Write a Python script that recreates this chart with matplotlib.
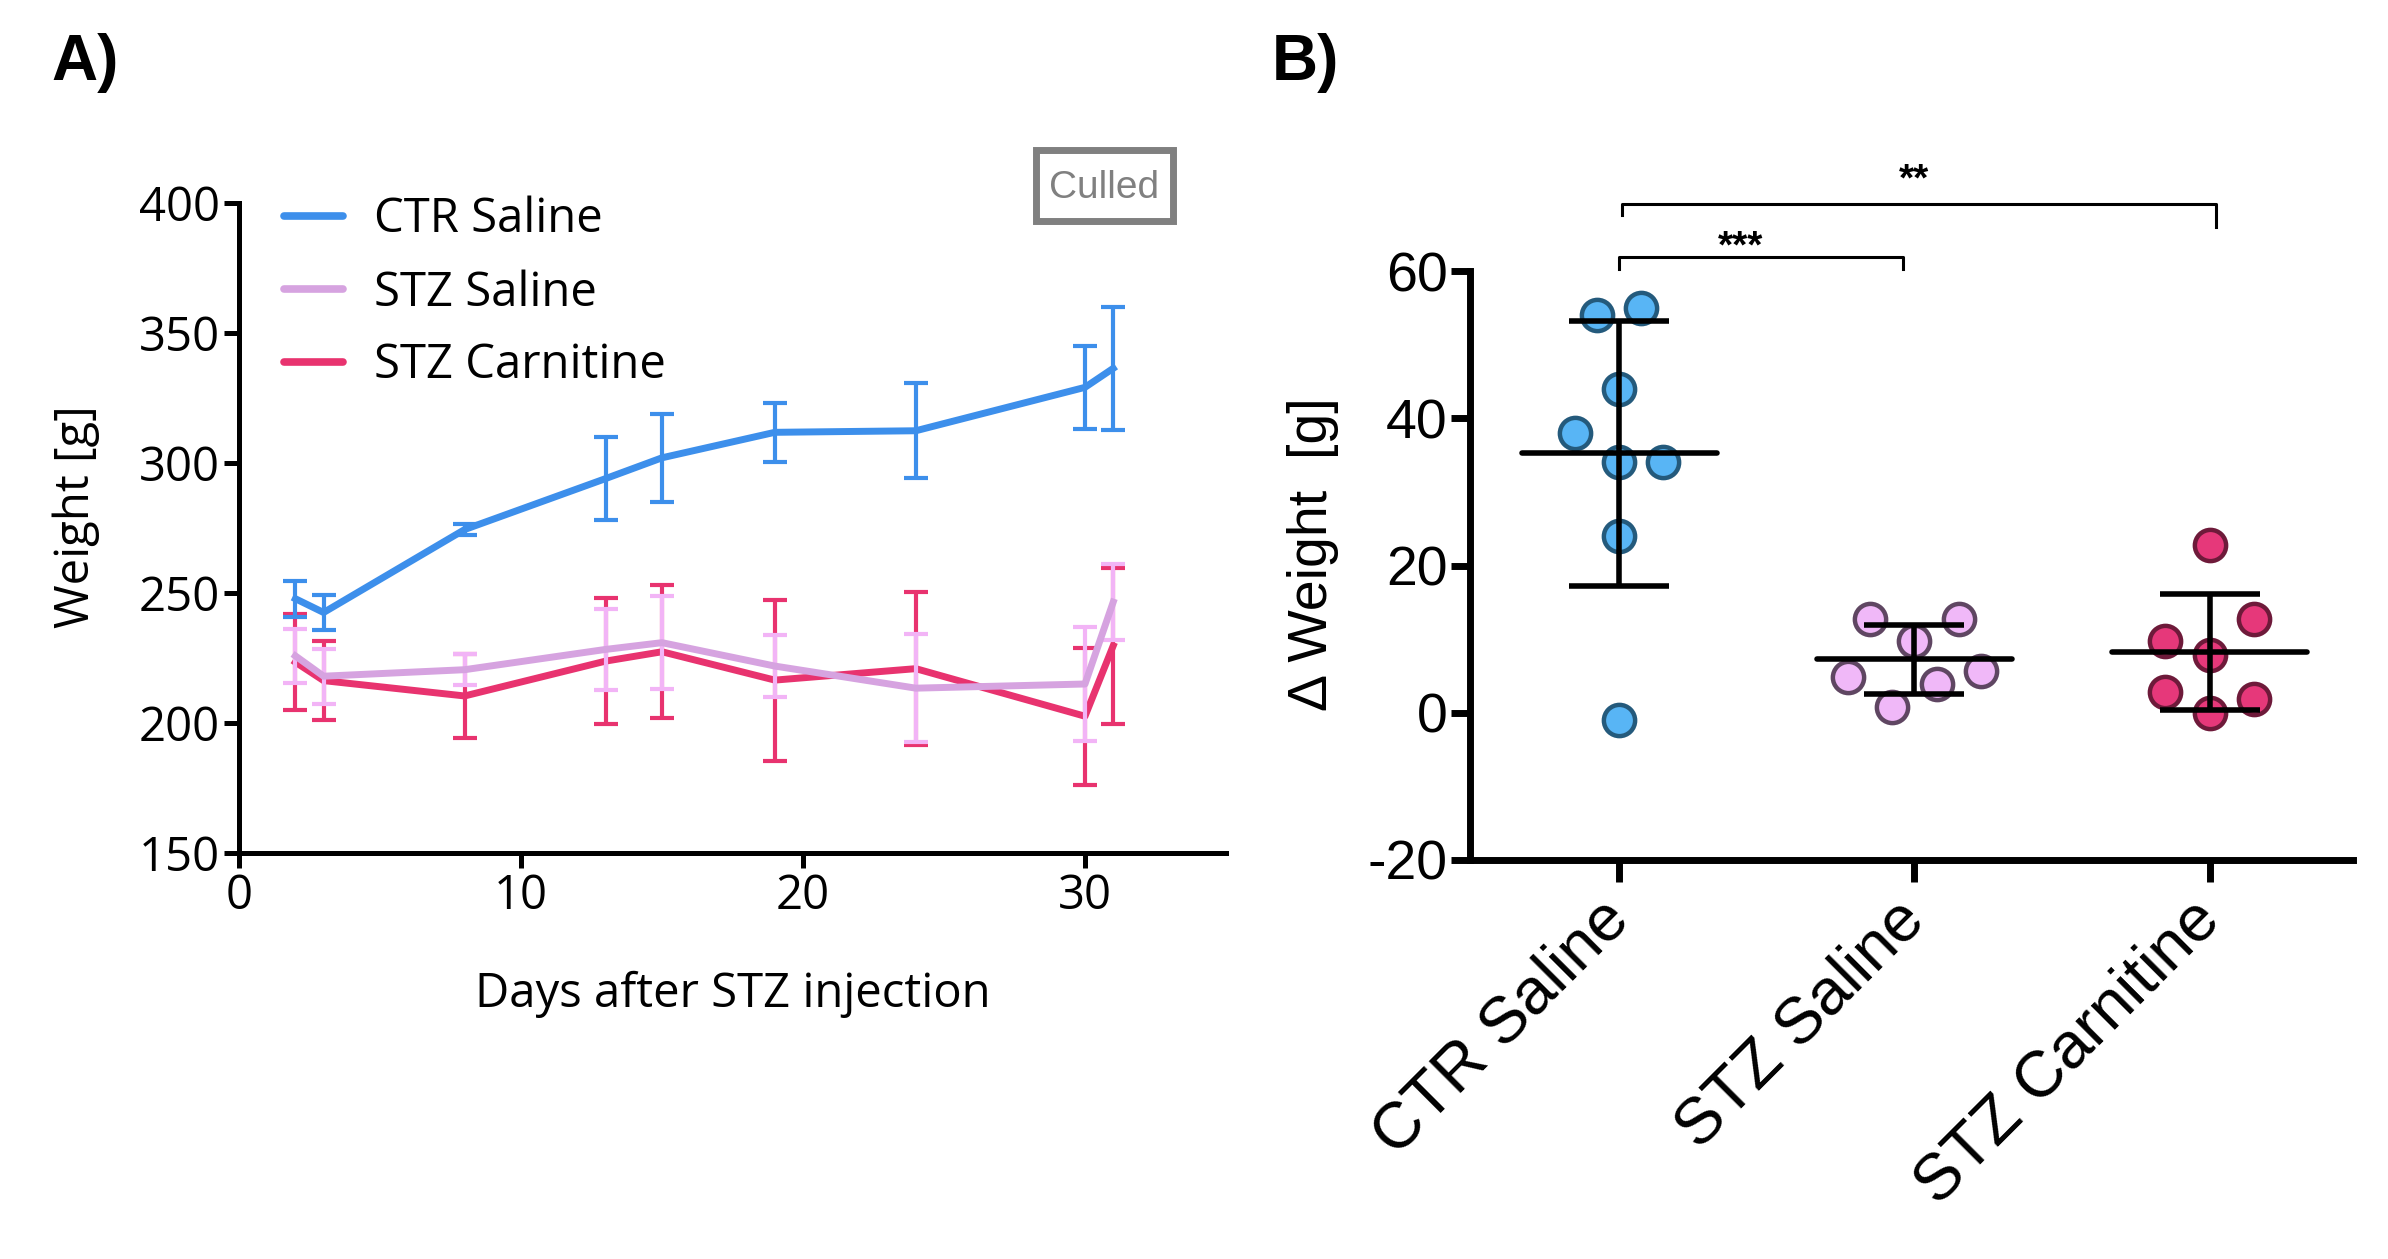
import matplotlib
matplotlib.use("Agg")
import matplotlib.pyplot as plt
import numpy as np
from matplotlib.patches import Rectangle

plt.rcParams["axes.unicode_minus"] = False

# ---------------- data ----------------
days = [2, 3, 8, 13, 15, 19, 24, 30, 31]
ctr_mean = [247.8, 242.5, 274.4, 294.0, 302.0, 311.8, 312.4, 329.1, 336.4]
ctr_err = [7.0, 6.6, 2.0, 16.0, 17.0, 11.3, 18.3, 16.0, 23.7]
sal_mean = [225.8, 218.0, 220.5, 228.3, 230.9, 221.9, 213.4, 215.0, 246.5]
sal_err = [10.3, 10.6, 6.0, 15.5, 18.0, 12.0, 20.7, 22.0, 14.5]
car_mean = [223.4, 216.3, 210.4, 223.8, 227.4, 216.5, 220.9, 202.6, 229.7]
car_err = [18.4, 15.3, 16.0, 24.2, 25.6, 31.0, 29.5, 26.4, 30.0]
series_names = ["CTR Saline", "STZ Saline", "STZ Carnitine"]

groups = ["CTR Saline", "STZ Saline", "STZ Carnitine"]
delta_ctr = [54, 55, 44, 38, 34, 34, 24, -1]
delta_sal = [12.8, 9.8, 12.8, 4.9, 0.8, 3.9, 5.7]
delta_car = [22.8, 9.8, 7.9, 12.8, 2.8, -0.1, 1.8]
sig_pairs = [(0, 1), (0, 2)]
sig_labels = ["***", "**"]

# ---------------- style ----------------
W, H = 2388, 1259
def fx(px):
    return px / W
def fy(py):
    return 1 - py / H

c_ctr = "#3D8FEB"
c_sal_line = "#D6A3E0"
c_sal_err = "#F2B4F6"
c_car = "#E8336F"
face_cols = ["#58B5F5", "#F0B8F8", "#E6387A"]
edge_cols = ["#245A7C", "#5F4662", "#6E1A3A"]

fig = plt.figure(figsize=(W / 100, H / 100), dpi=100)

# ---------------- Panel A ----------------
axA = fig.add_axes([fx(239), fy(853), (1226 - 239) / W, (853 - 203) / H])
lw_line = 5.0
ekw = dict(elinewidth=3.0, capthick=3.0, capsize=8.5, linestyle="none")
axA.errorbar(days, car_mean, yerr=car_err, ecolor=c_car, **ekw, zorder=2)
axA.plot(days, car_mean, color=c_car, lw=lw_line, zorder=3, label=series_names[2],
         solid_joinstyle="round")
axA.errorbar(days, sal_mean, yerr=sal_err, ecolor=c_sal_err, **ekw, zorder=4)
axA.plot(days, sal_mean, color=c_sal_line, lw=lw_line, zorder=5, label=series_names[1],
         solid_joinstyle="round")
axA.errorbar(days, ctr_mean, yerr=ctr_err, ecolor=c_ctr, **ekw, zorder=6)
axA.plot(days, ctr_mean, color=c_ctr, lw=lw_line, zorder=7, label=series_names[0],
         solid_joinstyle="round")

axA.set_xlim(0, 35)
axA.set_ylim(150, 400)
axA.set_xticks([0, 10, 20, 30])
axA.set_yticks([150, 200, 250, 300, 350, 400])
for s in ["top", "right"]:
    axA.spines[s].set_visible(False)
for s in ["left", "bottom"]:
    axA.spines[s].set_linewidth(3.6)
axA.tick_params(direction="out", length=11, width=3.6, labelsize=34, pad=3)
for lab in axA.get_xticklabels() + axA.get_yticklabels():
    lab.set_fontfamily("Open Sans")
axA.set_xlabel("Days after STZ injection", fontsize=34, fontfamily="Open Sans")
axA.xaxis.set_label_coords(0.5, -0.18)
axA.set_ylabel("Weight [g]", fontsize=34, fontfamily="Open Sans")
axA.yaxis.label.set_va("center")
axA.yaxis.set_label_coords(-0.165, 0.518)

handles, labels = axA.get_legend_handles_labels()
order = [2, 1, 0]
leg = axA.legend([handles[i] for i in order], [labels[i] for i in order],
                 loc="upper left", bbox_to_anchor=(fx(284), fy(196)),
                 bbox_transform=fig.transFigure, frameon=False,
                 prop={"family": "Open Sans", "size": 34},
                 handlelength=1.25, handletextpad=0.65, labelspacing=0.54,
                 borderpad=0, borderaxespad=0)
for ln in leg.get_lines():
    ln.set_linewidth(5.5)
    ln.set_solid_capstyle("round")

# "Culled" box
fig.patches.append(Rectangle((fx(1035.5), fy(220.5)), (1172.5 - 1035.5) / W,
                             (220.5 - 149.5) / H, transform=fig.transFigure,
                             fill=False, edgecolor="#808080", linewidth=5))
fig.text(fx(1104), fy(198), "Culled", ha="center", va="baseline",
         fontsize=28, color="#808080", fontfamily="Liberation Sans")

# ---------------- Panel B ----------------
axB = fig.add_axes([fx(1470), fy(860), (2353 - 1470) / W, (860 - 271) / H])
all_delta = [delta_ctr, delta_sal, delta_car]


def swarm_offsets(vals, window=5.2, step=0.15):
    vals = np.asarray(vals, dtype=float)
    order_desc = np.argsort(-vals, kind="stable")
    offs = np.zeros(len(vals))
    used = set()
    for i in order_desc:
        if i in used:
            continue
        top = vals[i]
        members = [j for j in order_desc if j not in used and top - vals[j] <= window]
        members = sorted(members)
        n = len(members)
        for k, j in enumerate(members):
            offs[j] = (k - (n - 1) / 2) * step
            used.add(j)
    return offs


for gi, vals in enumerate(all_delta):
    offs = swarm_offsets(vals)
    axB.plot(gi + offs, vals, "o", ms=22.5, mew=3.2, mfc=face_cols[gi],
             mec=edge_cols[gi], linestyle="none", zorder=3, clip_on=False)
    m = np.mean(vals)
    sd = np.std(vals, ddof=1)
    axB.plot([gi - 0.33, gi + 0.33], [m, m], color="black", lw=4.0,
             solid_capstyle="round", zorder=4)
    axB.errorbar(gi, m, yerr=sd, ecolor="black", elinewidth=4.0, capthick=4.0,
                 capsize=36, linestyle="none", zorder=4)

# significance brackets
br_levels = [(61.9, 60.3, 60.3), (69.1, 67.6, 66.0)]
br_x = [(0.0, 0.96), (0.01, 2.02)]
txt_x = [0.41, 1.0]
txt_y = [61.8, 70.9]
for (x0, x1), (yb, yl, yr), lab, tx, ty in zip(br_x, br_levels, sig_labels, txt_x, txt_y):
    axB.plot([x0, x0, x1, x1], [yl, yb, yb, yr], color="black", lw=2.2,
             clip_on=False, zorder=5)
    axB.text(tx, ty, lab, ha="center", va="baseline", fontsize=28,
             fontweight="bold", fontfamily="Liberation Sans")

axB.set_xlim(-0.505, 2.485)
axB.set_ylim(-20, 60)
axB.set_yticks([-20, 0, 20, 40, 60])
axB.set_xticks([0, 1, 2])
axB.set_xticklabels(groups)
for s in ["top", "right"]:
    axB.spines[s].set_visible(False)
for s in ["left", "bottom"]:
    axB.spines[s].set_linewidth(5.0)
axB.tick_params(axis="y", direction="out", length=14, width=5.0, labelsize=40, pad=2)
axB.tick_params(axis="x", direction="out", length=16, width=5.0, labelsize=47, pad=20)
for lab in axB.get_yticklabels():
    lab.set_fontfamily("Liberation Sans")
for lab in axB.get_xticklabels():
    lab.set_fontfamily("Liberation Sans")
    lab.set_rotation(45)
    lab.set_ha("right")
    lab.set_va("center")
    lab.set_rotation_mode("anchor")
axB.set_ylabel("\u0394 Weight  [g]", fontsize=40, fontfamily="Liberation Sans")
axB.yaxis.label.set_va("center")
axB.yaxis.set_label_coords(-0.178, 0.52)

# panel letters
fig.text(fx(51), fy(80), "A)", fontsize=46, fontweight="bold",
         fontfamily="Liberation Sans", va="baseline")
fig.text(fx(1272), fy(80), "B)", fontsize=46, fontweight="bold",
         fontfamily="Liberation Sans", va="baseline")

fig.savefig("out.png", dpi=100)
